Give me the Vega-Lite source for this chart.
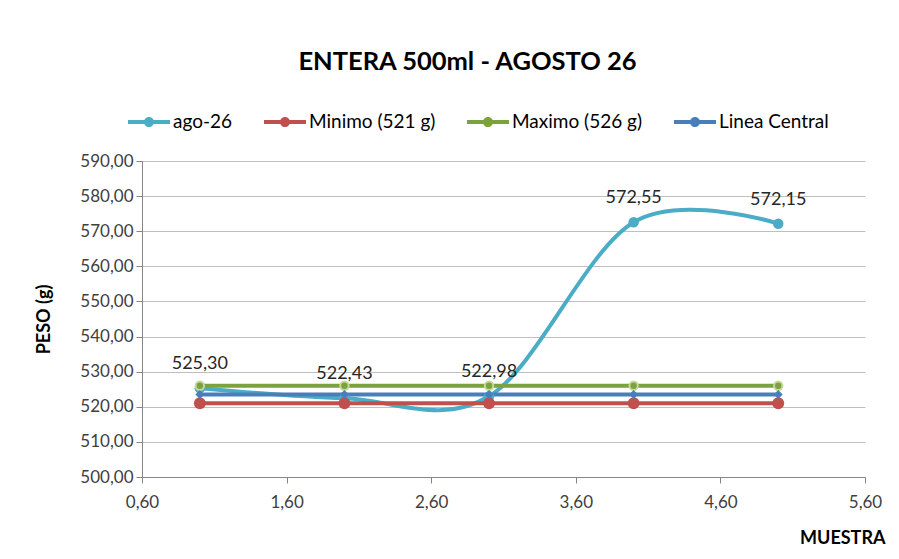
{
  "$schema": "https://vega.github.io/schema/vega-lite/v6.json",
  "autosize": "none",
  "width": 723,
  "height": 316,
  "padding": {"left": 142, "top": 161, "right": 34, "bottom": 82},
  "background": "white",
  "config": {
    "locale": {"number": {"decimal": ",", "thousands": ".", "grouping": [3], "currency": ["", " €"]}},
    "font": "Lato",
    "view": {"stroke": null},
    "axis": {
      "labelFont": "Lato",
      "labelFontSize": 17,
      "labelColor": "#404040",
      "labelFlush": false,
      "titleFont": "Lato",
      "titleFontSize": 18,
      "titleFontWeight": "bold",
      "titleColor": "#000000",
      "domainColor": "#868686",
      "tickColor": "#868686",
      "tickSize": 6,
      "gridColor": "#BFBFBF"
    }
  },
  "title": {
    "text": "ENTERA 500ml - AGOSTO 26",
    "font": "Lato",
    "fontSize": 25.5,
    "fontWeight": "bold",
    "color": "#000000",
    "anchor": "middle",
    "frame": "group",
    "dx": -36,
    "offset": 26
  },
  "data": {
    "values": [
      {"serie": "ago-26", "muestra": 1, "peso": 525.30},
      {"serie": "ago-26", "muestra": 2, "peso": 522.43},
      {"serie": "ago-26", "muestra": 3, "peso": 522.98},
      {"serie": "ago-26", "muestra": 4, "peso": 572.55},
      {"serie": "ago-26", "muestra": 5, "peso": 572.15},
      {"serie": "Minimo (521 g)", "muestra": 1, "peso": 521},
      {"serie": "Minimo (521 g)", "muestra": 2, "peso": 521},
      {"serie": "Minimo (521 g)", "muestra": 3, "peso": 521},
      {"serie": "Minimo (521 g)", "muestra": 4, "peso": 521},
      {"serie": "Minimo (521 g)", "muestra": 5, "peso": 521},
      {"serie": "Maximo (526 g)", "muestra": 1, "peso": 526},
      {"serie": "Maximo (526 g)", "muestra": 2, "peso": 526},
      {"serie": "Maximo (526 g)", "muestra": 3, "peso": 526},
      {"serie": "Maximo (526 g)", "muestra": 4, "peso": 526},
      {"serie": "Maximo (526 g)", "muestra": 5, "peso": 526},
      {"serie": "Linea Central", "muestra": 1, "peso": 523.5},
      {"serie": "Linea Central", "muestra": 2, "peso": 523.5},
      {"serie": "Linea Central", "muestra": 3, "peso": 523.5},
      {"serie": "Linea Central", "muestra": 4, "peso": 523.5},
      {"serie": "Linea Central", "muestra": 5, "peso": 523.5}
    ]
  },
  "encoding": {
    "x": {
      "field": "muestra",
      "type": "quantitative",
      "scale": {"domain": [0.6, 5.6], "nice": false, "zero": false},
      "axis": {
        "title": "MUESTRA",
        "values": [0.6, 1.6, 2.6, 3.6, 4.6, 5.6],
        "format": ".2f",
        "grid": false,
        "labelPadding": 11,
        "titleAnchor": "end",
        "titleAlign": "right",
        "titleX": 743,
        "titleY": 61,
        "titleBaseline": "middle"
      }
    },
    "y": {
      "field": "peso",
      "type": "quantitative",
      "scale": {"domain": [500, 590], "nice": false, "zero": false},
      "axis": {
        "title": "PESO (g)",
        "values": [500, 510, 520, 530, 540, 550, 560, 570, 580, 590],
        "format": ".2f",
        "grid": true,
        "labelPadding": 3,
        "titlePadding": 26
      }
    },
    "color": {
      "field": "serie",
      "type": "nominal",
      "sort": ["ago-26", "Minimo (521 g)", "Maximo (526 g)", "Linea Central"],
      "scale": {
        "domain": ["ago-26", "Minimo (521 g)", "Maximo (526 g)", "Linea Central"],
        "range": ["#4BACC6", "#C0504D", "#7BA23C", "#4A7EBB"]
      },
      "legend": null
    }
  },
  "layer": [
    {
      "mark": {"type": "line", "interpolate": "cardinal", "strokeWidth": 4},
      "encoding": {
        "color": {
          "field": "serie",
          "type": "nominal",
          "sort": ["ago-26", "Minimo (521 g)", "Maximo (526 g)", "Linea Central"],
          "scale": {
            "domain": ["ago-26", "Minimo (521 g)", "Maximo (526 g)", "Linea Central"],
            "range": ["#4BACC6", "#C0504D", "#7BA23C", "#4A7EBB"]
          },
          "legend": {
            "title": null,
            "orient": "none",
            "direction": "horizontal",
            "legendX": -14,
            "legendY": -60,
            "symbolType": "M-1,-0.1H1V0.1H-1Z M0.24,0A0.24,0.24 0 1 1 -0.24,0A0.24,0.24 0 1 1 0.24,0Z",
            "symbolSize": 1764,
            "symbolStrokeWidth": 0,
            "symbolOpacity": 1,
            "labelFont": "Lato",
            "labelFontSize": 19,
            "labelColor": "#000000",
            "labelOffset": 3,
            "columnPadding": 31,
            "padding": 0
          }
        },
        "fill": {"value": null}
      }
    },
    {
      "transform": [{"filter": "datum.serie == 'ago-26'"}],
      "mark": {"type": "point", "shape": "circle", "filled": true, "size": 110, "opacity": 1}
    },
    {
      "transform": [{"filter": "datum.serie == 'Minimo (521 g)'"}],
      "mark": {"type": "point", "shape": "circle", "filled": true, "size": 140, "opacity": 1}
    },
    {
      "transform": [{"filter": "datum.serie == 'Maximo (526 g)'"}],
      "mark": {"type": "point", "shape": "circle", "filled": true, "size": 70, "opacity": 1, "stroke": "#C4D99B", "strokeWidth": 2}
    },
    {
      "transform": [{"filter": "datum.serie == 'Linea Central'"}],
      "mark": {"type": "point", "shape": "diamond", "filled": true, "size": 80, "opacity": 1}
    },
    {
      "transform": [{"filter": "datum.serie == 'ago-26'"}],
      "mark": {"type": "text", "dy": -24, "baseline": "middle", "align": "center", "font": "Lato", "fontSize": 18},
      "encoding": {
        "text": {"field": "peso", "type": "quantitative", "format": ".2f"},
        "color": {"value": "#262626"}
      }
    }
  ]
}
